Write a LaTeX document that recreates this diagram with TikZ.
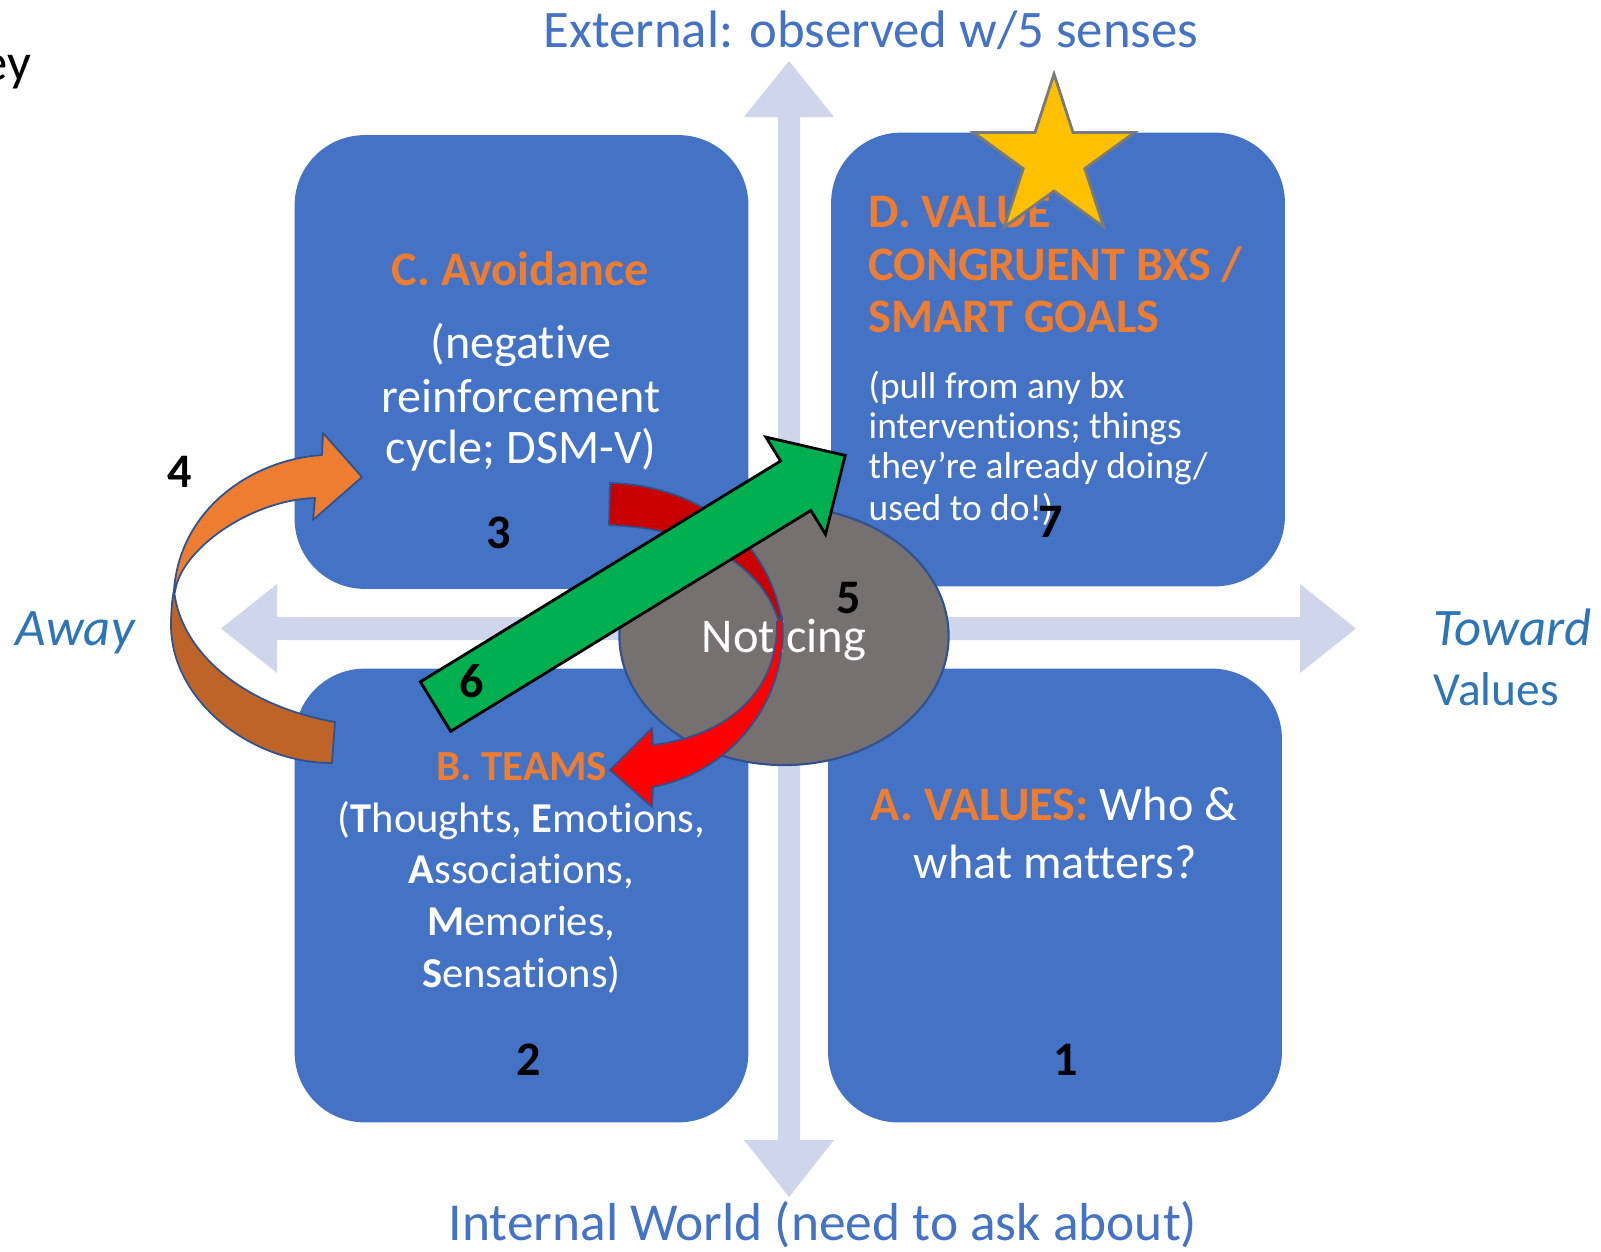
\documentclass[tikz,border=0pt]{standalone}
\usepackage{fontspec}
\setmainfont{Carlito}[Ligatures={NoCommon,NoContextual}]
\usetikzlibrary{shapes.geometric}
\definecolor{boxblue}{HTML}{4472C4}
\definecolor{titleorange}{HTML}{ED7D31}
\definecolor{axiscol}{HTML}{CFD5EA}
\definecolor{labelblue}{HTML}{2E75B6}
\definecolor{outlineblue}{HTML}{2F528F}
\definecolor{noticegray}{HTML}{767171}
\definecolor{darkredband}{HTML}{C80000}
\definecolor{brightred}{HTML}{FF0000}
\definecolor{darkorange}{HTML}{BE6428}
\definecolor{arrowgreen}{HTML}{00B050}
\definecolor{stargold}{HTML}{FFC000}
\definecolor{stargray}{HTML}{7A7A7A}
\begin{document}
\begin{tikzpicture}[x=0.01cm,y=-0.01cm,
  quad/.style={rectangle, rounded corners=0.7cm, fill=boxblue, minimum width=4.535cm, minimum height=4.535cm, inner sep=0pt},
  biglabel/.style={font=\fontsize{15}{18}\selectfont, inner sep=0pt, anchor=base},
  boxline/.style={font=\fontsize{13.7}{16}\selectfont, text=white, inner sep=0pt, anchor=base},
  boxtitle/.style={font=\fontsize{13.7}{16}\selectfont\bfseries, text=titleorange, inner sep=0pt, anchor=base},
  bline/.style={font=\fontsize{12.1}{15}\selectfont, text=white, inner sep=0pt, anchor=base},
  smallline/.style={font=\fontsize{10.65}{12}\selectfont, text=white, inner sep=0pt, anchor=base west},
  numlabel/.style={font=\fontsize{13.7}{16}\selectfont\bfseries, text=black, inner sep=0pt, anchor=base},
  bandedge/.style={draw=outlineblue, line width=0.5pt, line join=round},
]
\useasboundingbox (0,0) rectangle (1601,1251);

% axes
\fill[axiscol] (789,61) -- (834,117) -- (800,117) -- (800,1140) -- (834,1140) -- (789,1197)
  -- (744,1140) -- (778,1140) -- (778,117) -- (744,117) -- cycle;
\fill[axiscol] (221,628.5) -- (277,584) -- (277,617) -- (1300,617) -- (1300,584) -- (1356,628.5)
  -- (1300,673) -- (1300,640) -- (277,640) -- (277,673) -- cycle;

% axis labels
\node[biglabel, text=boxblue] (ext) at (871,47) {External: observed w/5 senses};
\node[biglabel, text=boxblue, font=\fontsize{15.2}{18}\selectfont] (int) at (823,1240) {Internal World (need to ask about)};
\node[biglabel, text=labelblue, anchor=base west, font=\fontsize{15}{18}\selectfont\itshape] (away) at (15,645) {Away};
\node[biglabel, text=labelblue, anchor=base west, font=\fontsize{15}{18}\selectfont\itshape] (toward) at (1433,645) {Toward};
\node[biglabel, text=labelblue, anchor=base west, font=\fontsize{13.5}{16}\selectfont] (values) at (1433,705) {Values};
\node[biglabel, text=black, anchor=base east] (ey) at (32,80) {ey};

% quadrant boxes
\node[quad] (boxC) at (521.5,362) {};
\node[quad] (boxD) at (1058,359.5) {};
\node[quad] (boxB) at (521.5,895.5) {};
\node[quad] (boxA) at (1055,895.5) {};

% C box text
\node[boxtitle] (ctitle) at (520.5,285) {C. Avoidance};
\node[boxline] (c1) at (521,358) {(negative};
\node[boxline] (c2) at (521,412) {reinforcement};
\node[boxline] (c3) at (521,463) {cycle; DSM-V)};
\node[numlabel] (n3) at (499,548) {3};

% D box text
\node[boxtitle, anchor=base west] (dtitle1) at (868,227) {D. VALUE};
\node[boxtitle, anchor=base west] (dtitle2) at (868,280) {CONGRUENT BXS /};
\node[boxtitle, anchor=base west] (dtitle3) at (868,332) {SMART GOALS};
\node[smallline] (d1) at (868,398) {(pull from any bx};
\node[smallline] (d2) at (868,438) {interventions; things};
\node[smallline] (d3) at (868,478) {they’re already doing/};
\node[smallline] (d4) at (868,520) {used to do!)};

% B box text
\node[boxtitle, font=\fontsize{12.2}{15}\selectfont\bfseries] (btitle) at (521.5,780) {B. TEAMS};
\node[bline] (b1) at (521.5,832) {(\textbf{T}houghts, \textbf{E}motions,};
\node[bline] (b2) at (521.5,883) {\textbf{A}ssociations,};
\node[bline] (b3) at (521.5,935) {\textbf{M}emories,};
\node[bline] (b4) at (521.5,987) {\textbf{S}ensations)};
\node[numlabel] (n2) at (529,1075) {2};

% A box text
\node[boxline] (a1) at (1054,820) {{\bfseries\color{titleorange}A. VALUES:} Who \&};
\node[boxline] (a2) at (1055,878) {what matters?};
\node[numlabel] (n1) at (1066,1075) {1};

% Noticing ellipse
\node[ellipse, fill=noticegray, draw=outlineblue, line width=0.6pt, minimum width=3.29cm, minimum height=2.58cm, inner sep=0pt] (notice) at (784,636) {};
\node[boxline, font=\fontsize{13.8}{16}\selectfont] (noticetext) at (784,652) {Noticing};
\node[numlabel] (n5) at (849,613) {5};

% red curved arrow (back band, then front band with head)
\path[bandedge, fill=darkredband] (610,483) .. controls (690,485) and (765,530) .. (782,620)
  -- (780,627) .. controls (770,580) and (720,530) .. (609,525) -- cycle;
\path[bandedge, fill=brightred] (782,616) .. controls (790,690) and (740,770) .. (653,787)
  -- (652,807) -- (610,770) -- (652,728) -- (653,745)
  .. controls (730,735) and (778,690) .. (777,622) -- cycle;

% green straight arrow
\path[draw=black, line width=0.8pt, fill=arrowgreen, line join=miter]
  (420.4,681.8) -- (780.6,461.0) -- (765.9,437.1) -- (845.2,455.4) -- (825.5,534.3) -- (810.9,510.4) -- (450.7,731.2) -- cycle;
\node[numlabel] (n6) at (472,697) {6};

% orange curved arrow
\path[bandedge, fill=darkorange] (174,590) .. controls (172,600) and (171,612) .. (171,625)
  .. controls (171,700) and (250,763) .. (332,763) -- (335,722)
  .. controls (240,705) and (180,650) .. (174,590) -- cycle;
\path[bandedge, fill=titleorange] (174,590) .. controls (180,510) and (250,460) .. (322,455)
  -- (323,433) -- (362,477) -- (313,520) -- (315,498)
  .. controls (250,500) and (180,550) .. (175,592) -- cycle;
\node[numlabel] (n4) at (180,487) {4};

% star
\path[draw=stargray, line width=0.8pt, fill=stargold, line join=miter]
  (1054,74) -- (1073,132.4) -- (1134.5,132.5) -- (1084.8,168.6) -- (1103.7,227) -- (1054,191)
  -- (1004.3,227) -- (1023.2,168.6) -- (973.5,132.5) -- (1035,132.4) -- cycle;

\node[numlabel] (n7) at (1051,537) {7};
\end{tikzpicture}
\end{document}
